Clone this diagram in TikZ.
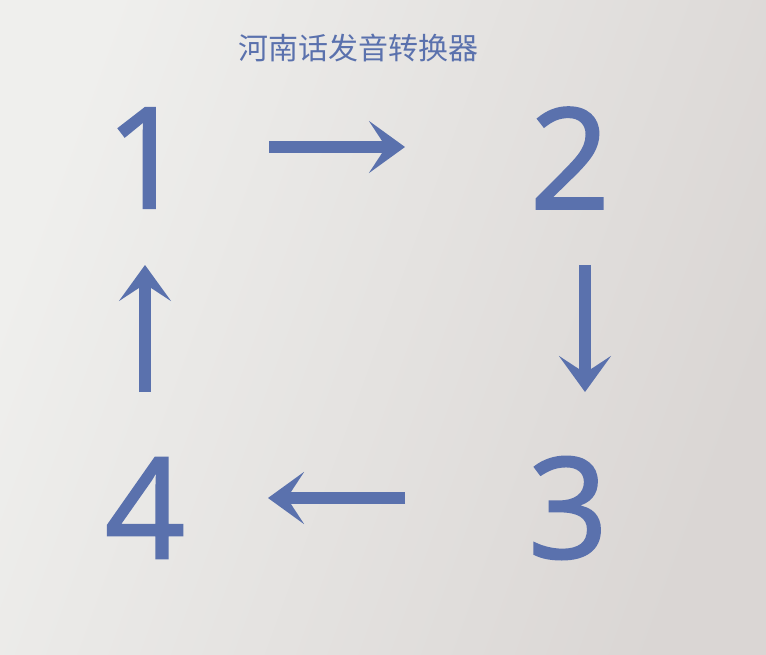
\documentclass[tikz,border=0pt]{standalone}
\usepackage{fontspec}
\setmainfont{Open Sans}
\newfontfamily\digitfont[FakeBold=1.6]{Open Sans}
\newfontfamily\cjk{Noto Sans CJK SC}
\usetikzlibrary{arrows.meta}
\definecolor{slate}{RGB}{90,113,173}
\definecolor{paperA}{RGB}{239,239,237}
\definecolor{paperB}{RGB}{218,214,212}
\begin{document}
\begin{tikzpicture}[x=1pt,y=-1pt]
    % node style definition
    \tikzstyle{digit} = [inner sep=0pt, text=slate,
    	font=\digitfont\fontsize{140}{140}\selectfont];
    \tikzstyle{title} = [inner sep=0pt, text=slate,
    	font=\cjk\fontsize{30}{30}\selectfont];
    \tikzstyle{flow} = [draw=slate, line width=12pt,
    	-{Stealth[length=36pt, width=52pt, inset=17pt]}];
    % background
    \shade[left color=paperA, right color=paperB, shading angle=70]
    	(0,0) rectangle (766,655);
    \useasboundingbox (0,0) rectangle (766,655);
    \node[title] (head) at (358,48) {河南话发音转换器};
    % the four steps
    \foreach \num/\x/\y in {1/146/158, 2/570/158, 3/568/508, 4/145/508}
    {
    	\node[digit] (n\num) at (\x,\y) {\num};
    }
    % arrow end points
    \coordinate (a1) at (269,147);
    \coordinate (b1) at (405,147);
    \coordinate (a2) at (585,265);
    \coordinate (b2) at (585,392);
    \coordinate (a3) at (405,498);
    \coordinate (b3) at (268,498);
    \coordinate (a4) at (145,392);
    \coordinate (b4) at (145,265);
    \foreach \i in {1,2,3,4}
    {
    	\draw[flow] (a\i) -- (b\i);
    }
\end{tikzpicture}
\end{document}
